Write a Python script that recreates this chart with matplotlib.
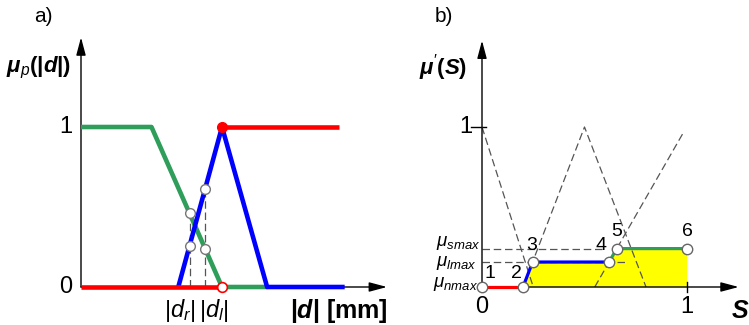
import numpy as np
import matplotlib
matplotlib.use('Agg')
import matplotlib.pyplot as plt

plt.rcParams['font.family'] = 'Liberation Sans'
plt.rcParams['mathtext.fontset'] = 'custom'
plt.rcParams['mathtext.rm'] = 'Liberation Sans'
plt.rcParams['mathtext.it'] = 'Liberation Sans:italic'
plt.rcParams['mathtext.bf'] = 'Liberation Sans:bold'
plt.rcParams['mathtext.bfit'] = 'Liberation Sans:italic:bold'

# ---- datos panel a) : funciones de pertenencia de |d|
green_x = [0, 0.5, 1.0, 1.32]
green_y = [1, 1, 0, 0]
blue_x = [0.69, 1.0, 1.32, 1.87]
blue_y = [0, 1, 0, 0]
red_low_x = [0, 1.0]
red_low_y = [0, 0]
red_high_x = [1.0, 1.83]
red_high_y = [1, 1]
d_r = 0.77
d_l = 0.88

# ---- datos panel b) : conjuntos de salida S
set_n_x = [0, 0.25]
set_n_y = [1, 0]
set_l_x = [0.2, 0.5, 0.8]
set_l_y = [0, 1, 0]
set_s_x = [0.55, 0.98]
set_s_y = [0, 0.96]
mu_nmax = 0.0
mu_lmax = 0.156
mu_smax = 0.24
s_end = 1.0

GREEN = '#2f9e5a'
BLUE = '#0000ff'
RED = '#ff0000'
DASH = (0, (6, 3))

fig = plt.figure(figsize=(7.49, 3.25), dpi=100)

# panel a) -- escala: 141 px por unidad en x, 160 px por unidad en y
ax1 = fig.add_axes([0, 0, 400 / 749, 1])
ax1.set_xlim(-81 / 141, 319 / 141)
ax1.set_ylim(-38 / 160, 287 / 160)
ax1.axis('off')
ax1.patch.set_alpha(0)

arrow = dict(arrowstyle='-|>,head_length=0.6,head_width=0.16', mutation_scale=18,
             lw=1, color='k', shrinkA=0, shrinkB=0)
ax1.annotate('', xy=(0, 1.56), xytext=(0, 0), arrowprops=arrow, annotation_clip=False)
ax1.annotate('', xy=(2.17, 0), xytext=(0, 0), arrowprops=arrow, annotation_clip=False)

lw1 = 3.3
ax1.plot(green_x, green_y, color=GREEN, lw=lw1, solid_capstyle='butt', zorder=3)
ax1.plot(blue_x, blue_y, color=BLUE, lw=lw1, solid_capstyle='butt', zorder=4)
ax1.plot(red_low_x, red_low_y, color=RED, lw=lw1, solid_capstyle='butt', zorder=5)
ax1.plot(red_high_x, red_high_y, color=RED, lw=lw1, solid_capstyle='butt', zorder=5)
ax1.plot(red_high_x[0], red_high_y[0], 'o', color=RED, ms=7, zorder=6)
ax1.plot(red_low_x[-1], red_low_y[-1], 'o', mfc='white', mec=RED, mew=1.2, ms=7, zorder=6)

# puntos de corte en d_r y d_l
for d in (d_r, d_l):
    g = np.interp(d, green_x[1:3], green_y[1:3])
    b = np.interp(d, blue_x[:2], blue_y[:2])
    ax1.plot([d, d], [0, max(g, b)], color='#555555', lw=0.9, ls=DASH, zorder=2)
    ax1.plot([d, d], [g, b], 'o', mfc='white', mec='#777777', mew=1, ms=7, zorder=7)

fs = 17
ax1.text(-0.27, 1.69, 'a)', fontsize=15, ha='center', va='center')
ax1.text(-0.30, 1.37, r'$\mathbfit{\mu}_{\mathit{p}}\mathbf{(|}\mathbfit{d}\mathbf{|)}$',
         fontsize=16, ha='center', va='center')
ax1.text(-0.11, 1.0, '1', fontsize=fs, ha='center', va='center')
ax1.text(-0.11, 0.0, '0', fontsize=fs, ha='center', va='center')
ax1.text(0.70, -0.15, r'$|d_r|$', fontsize=fs, ha='center', va='center')
ax1.text(0.94, -0.15, r'$|d_l|$', fontsize=fs, ha='center', va='center')
ax1.text(1.83, -0.15, r'$\mathbf{|}\mathbfit{d}\mathbf{|}$ [mm]', fontsize=18,
         fontweight='bold', ha='center', va='center')

# panel b) -- escala: 205 px por unidad en x
ax2 = fig.add_axes([375 / 749, 0, 374 / 749, 1])
ax2.set_xlim(-107 / 205, 267 / 205)
ax2.set_ylim(-38 / 160, 287 / 160)
ax2.axis('off')
ax2.patch.set_alpha(0)

ax2.annotate('', xy=(0, 1.54), xytext=(0, 0), arrowprops=arrow, annotation_clip=False)
ax2.annotate('', xy=(1.252, 0), xytext=(0, 0), arrowprops=arrow, annotation_clip=False)
ax2.plot([-0.055, 0.02], [1, 1], color='k', lw=1)
ax2.plot([s_end, s_end], [-0.03, 0.03], color='k', lw=1)

# puntos característicos de la salida agregada
p1 = (0.0, mu_nmax)
p2 = (set_l_x[0], mu_nmax)
p3 = (np.interp(mu_lmax, set_l_y[:2], set_l_x[:2]), mu_lmax)
p4 = (np.interp(mu_lmax, set_s_y, set_s_x), mu_lmax)
p5 = (np.interp(mu_smax, set_s_y, set_s_x), mu_smax)
p6 = (s_end, mu_smax)
pts = [p1, p2, p3, p4, p5, p6]

poly_x = [p2[0], p3[0], p4[0], p5[0], p6[0], p6[0]]
poly_y = [p2[1], p3[1], p4[1], p5[1], p6[1], 0]
ax2.fill(poly_x, poly_y, color='#ffff00', lw=0, zorder=1)

ax2.plot(set_n_x, set_n_y, color='#555555', lw=0.9, ls=DASH, zorder=2)
ax2.plot(set_l_x, set_l_y, color='#555555', lw=0.9, ls=DASH, zorder=2)
ax2.plot(set_s_x, set_s_y, color='#555555', lw=0.9, ls=DASH, zorder=2)
ax2.plot([0, 0.60], [mu_smax, mu_smax], color='#555555', lw=0.9, ls=DASH, zorder=2)
ax2.plot([0, 0.70], [mu_lmax, mu_lmax], color='#555555', lw=0.9, ls=DASH, zorder=2)

lw2 = 2.3
ax2.plot([p1[0], p2[0]], [p1[1], p2[1]], color=RED, lw=lw2, zorder=3)
ax2.plot([p2[0], p3[0], p4[0]], [p2[1], p3[1], p4[1]], color=BLUE, lw=lw2, zorder=3)
ax2.plot([p4[0], p5[0], p6[0]], [p4[1], p5[1], p6[1]], color=GREEN, lw=lw2, zorder=3)
ax2.plot([p[0] for p in pts], [p[1] for p in pts], 'o', ls='none', mfc='white',
         mec='#666666', mew=1, ms=7.5, zorder=5)

offsets = [(6, 10), (-4.5, 10), (-1, 12), (-6, 12), (0, 12), (0, 12)]
for i, (p, off) in enumerate(zip(pts, offsets)):
    ax2.annotate(str(i + 1), xy=p, xytext=off, textcoords='offset points',
                 fontsize=14, ha='center', va='center', zorder=6)

ax2.text(-0.185, 1.69, 'b)', fontsize=15, ha='center', va='center')
ax2.text(-0.19, 1.37, r"$\mathbfit{\mu}'\mathbf{(}\mathbfit{S}\mathbf{)}$",
         fontsize=16, ha='center', va='center')
ax2.text(-0.078, 1.0, '1', fontsize=fs, ha='center', va='center')
ax2.text(0.0, -0.125, '0', fontsize=fs, ha='center', va='center')
ax2.text(s_end, -0.125, '1', fontsize=fs, ha='center', va='center')
ax2.text(1.26, -0.15, 'S', fontsize=18, fontweight='bold', style='italic',
         ha='center', va='center')
mu_fs = 13.5
ax2.text(-0.01, mu_smax + 0.015, r'$\mu_{smax}$', fontsize=mu_fs, ha='right', va='baseline')
ax2.text(-0.025, mu_lmax - 0.025, r'$\mu_{lmax}$', fontsize=mu_fs, ha='right', va='baseline')
ax2.text(-0.02, mu_nmax + 0.0, r'$\mu_{nmax}$', fontsize=mu_fs, ha='right', va='baseline')

fig.savefig('out.png', dpi=100)
